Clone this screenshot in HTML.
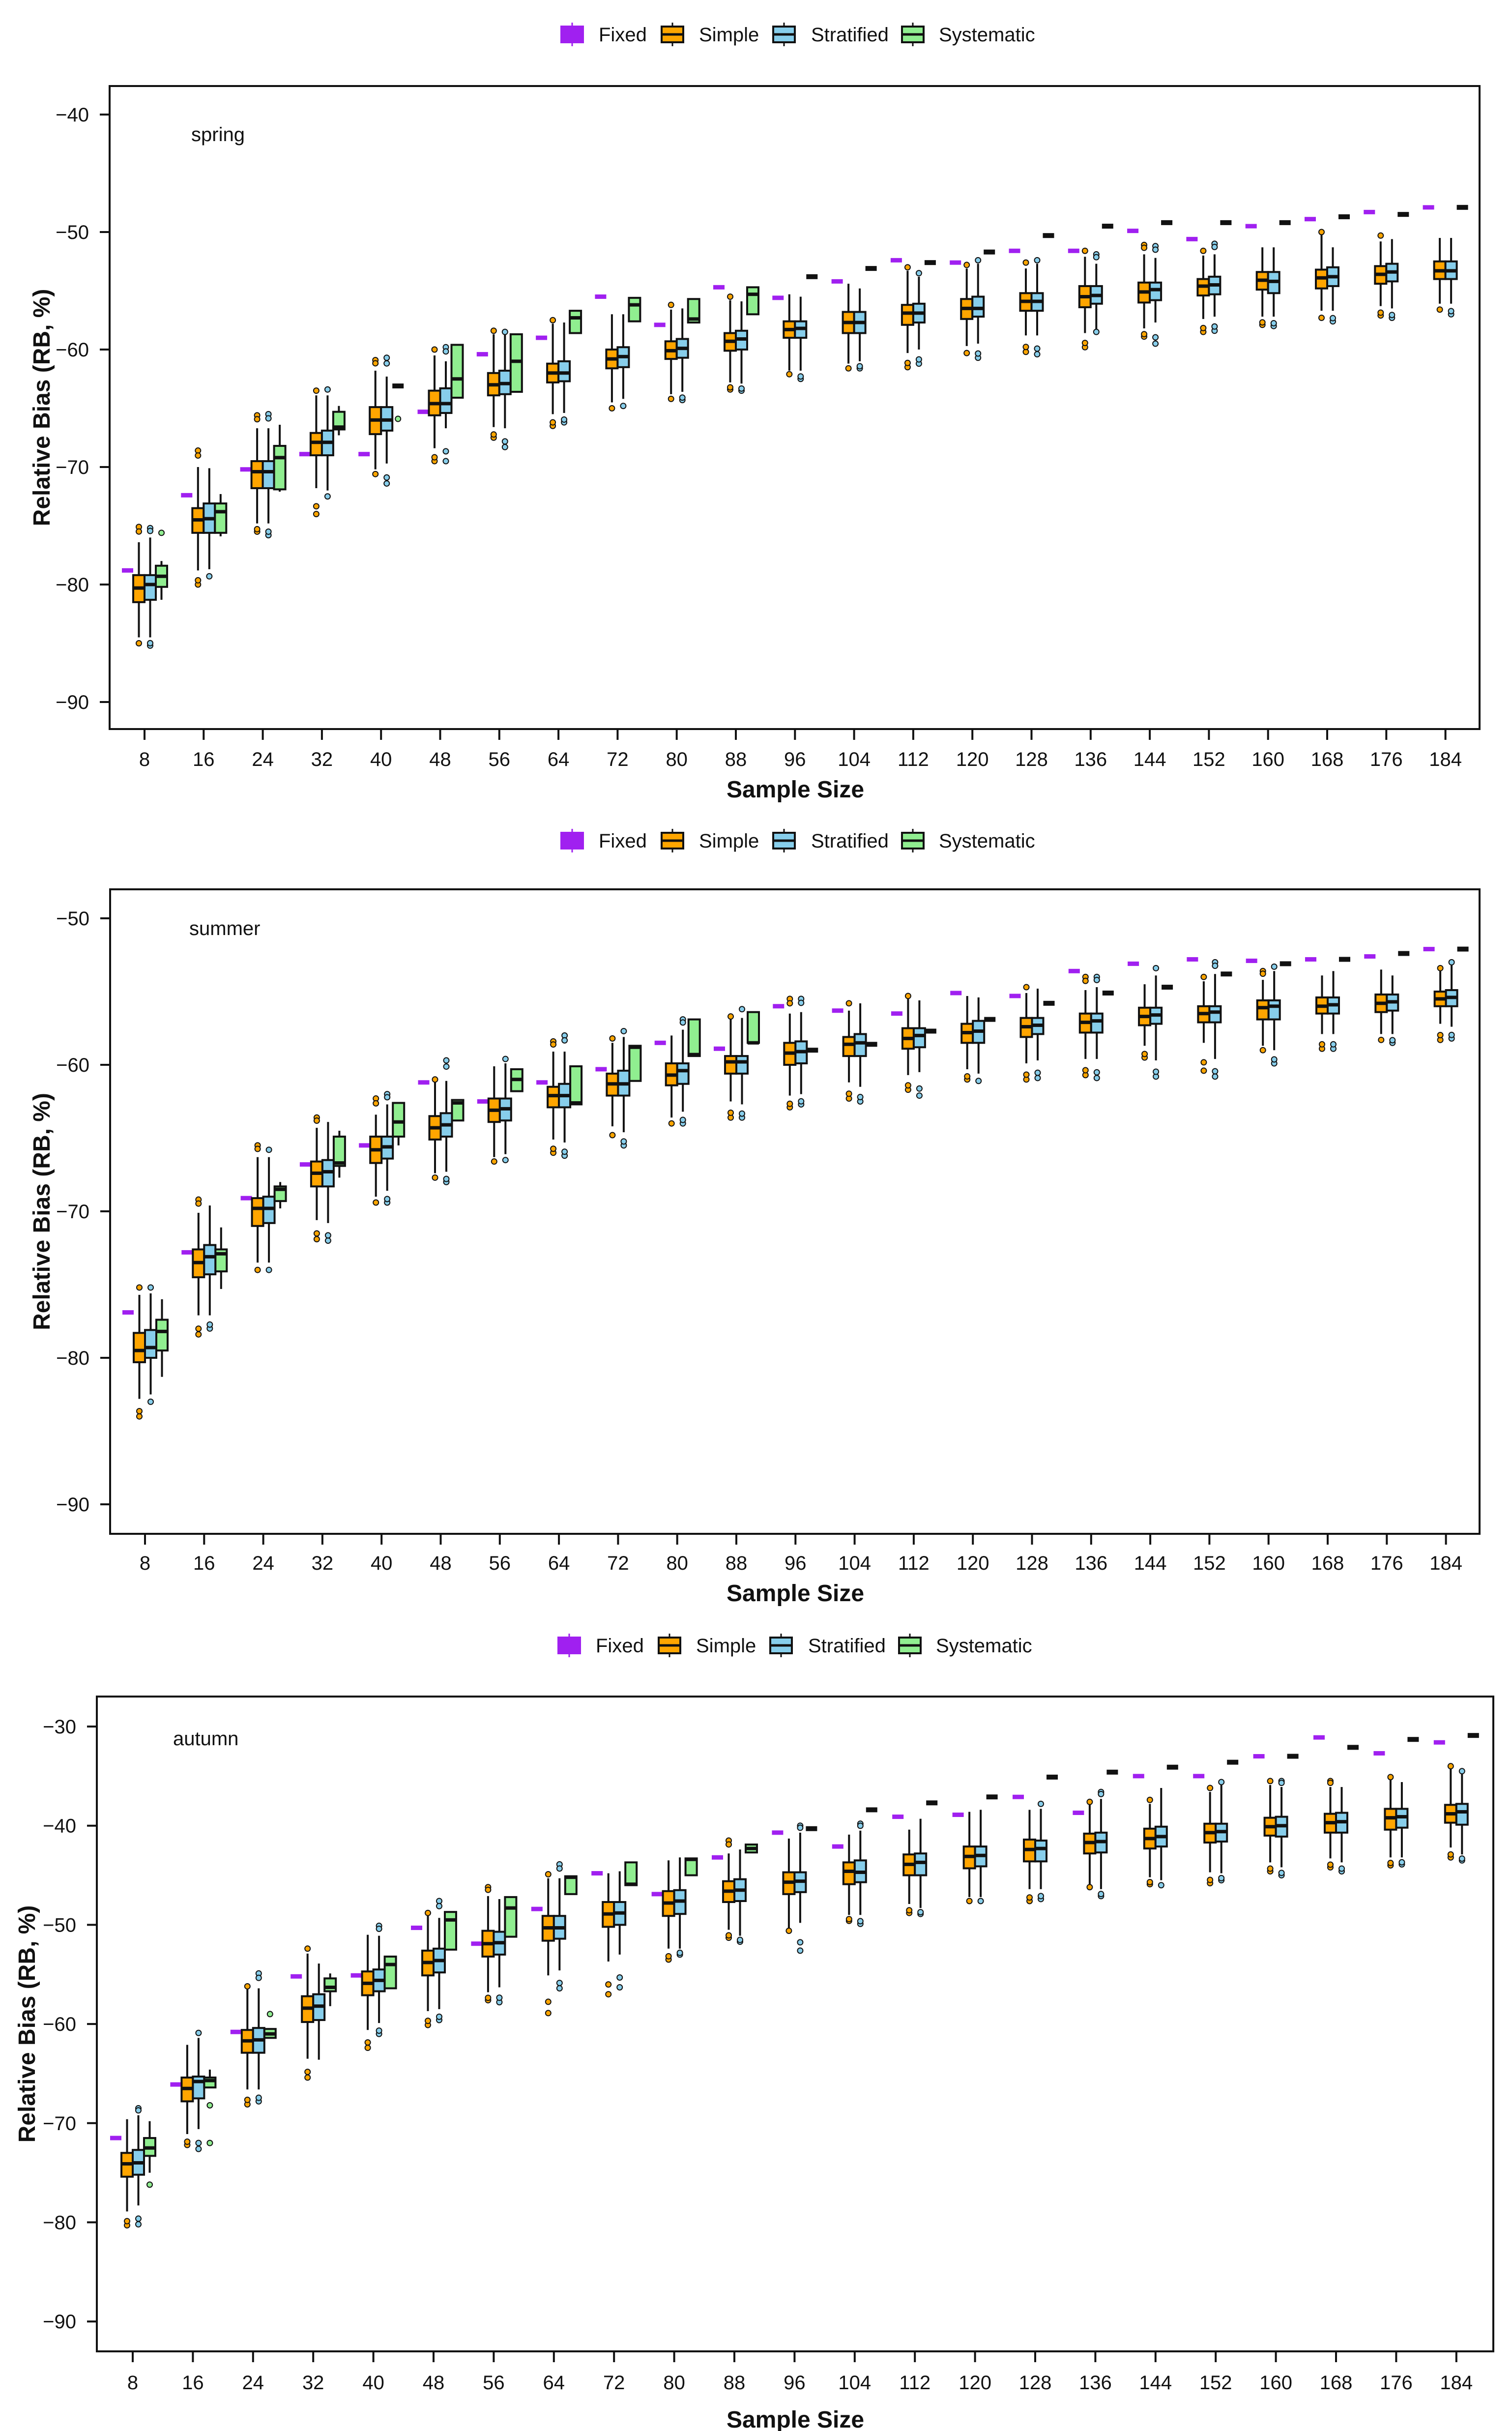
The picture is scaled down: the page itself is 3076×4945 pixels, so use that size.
<!DOCTYPE html>
<html><head><meta charset="utf-8"><title>Relative Bias by Sample Size</title>
<style>
html,body{margin:0;padding:0;background:#fff;}
svg{display:block;}
text{font-family:"Liberation Sans Narrow","Liberation Sans",Arial,sans-serif;fill:#111;}
.bold{font-family:"Liberation Sans",Arial,sans-serif;font-weight:bold;}
</style></head>
<body>
<svg id="chart" xmlns="http://www.w3.org/2000/svg" width="3076" height="4945" viewBox="0 0 3076 4945">
<rect x="0" y="0" width="3076" height="4945" fill="#fff"/>
</svg>
<script>
const categories = [8,16,24,32,40,48,56,64,72,80,88,96,104,112,120,128,136,144,152,160,168,176,184];
const springTicks = [-40,-50,-60,-70,-80,-90];
const summerTicks = [-50,-60,-70,-80,-90];
const autumnTicks = [-30,-40,-50,-60,-70,-80,-90];

// ---------- spring ----------
const springFixed = [-78.8,-72.4,-70.2,-68.9,-68.9,-65.3,-60.4,-59.0,-55.5,-57.9,-54.7,-55.6,-54.2,-52.4,-52.6,-51.6,-51.6,-49.9,-50.6,-49.5,-48.9,-48.3,-47.9];
const springSimpleMed = [-80.3,-74.5,-70.4,-67.9,-66.0,-64.6,-63.0,-62.0,-60.8,-60.1,-59.3,-58.3,-57.7,-56.9,-56.5,-55.9,-55.5,-55.1,-54.6,-54.1,-53.9,-53.6,-53.3];
const springSimpleQ3 = [-79.2,-73.5,-69.5,-67.1,-64.9,-63.5,-62.0,-61.2,-60.0,-59.3,-58.6,-57.6,-56.8,-56.2,-55.7,-55.2,-54.6,-54.3,-54.0,-53.4,-53.2,-52.9,-52.5];
const springSimpleQ1 = [-81.5,-75.6,-71.8,-69.0,-67.2,-65.6,-63.9,-62.8,-61.6,-60.8,-60.1,-59.0,-58.6,-57.9,-57.4,-56.7,-56.4,-56.0,-55.4,-54.9,-54.8,-54.4,-54.0];
const springSimpleHi = [-76.4,-70.0,-66.7,-63.9,-61.8,-60.5,-58.7,-57.8,-57.0,-56.6,-55.8,-55.3,-54.4,-53.3,-53.1,-53.1,-52.1,-51.9,-52.0,-51.3,-50.2,-50.8,-50.5];
const springSimpleLo = [-84.5,-78.8,-74.8,-71.8,-70.2,-68.4,-66.6,-65.5,-64.5,-63.8,-62.8,-61.8,-61.2,-60.3,-59.7,-58.8,-58.6,-58.2,-57.4,-57.2,-56.7,-56.3,-56.1];
const springSimpleOutHi = [-75.1,-68.6,-65.6,-63.5,-60.9,-60.0,-58.4,-57.5,null,-56.2,-55.5,null,null,-53.0,-52.8,-52.6,-51.6,-51.1,-51.6,null,-50.0,-50.3,null];
const springSimpleOutLo = [-85.0,-80.0,-75.5,-74.0,-70.6,-69.5,-67.5,-66.5,-65.0,-64.2,-63.4,-62.1,-61.6,-61.5,-60.3,-60.2,-59.8,-58.9,-58.5,-57.9,-57.3,-57.1,-56.6];
const springStratMed = [-80.0,-74.4,-70.4,-67.9,-66.0,-64.6,-62.9,-62.0,-60.6,-59.9,-59.1,-58.2,-57.7,-56.9,-56.5,-55.9,-55.4,-54.9,-54.5,-54.2,-53.8,-53.4,-53.3];
const springStratQ3 = [-79.2,-73.1,-69.5,-66.9,-64.9,-63.3,-61.8,-61.0,-59.8,-59.1,-58.4,-57.6,-56.8,-56.1,-55.5,-55.2,-54.6,-54.3,-53.8,-53.4,-53.0,-52.7,-52.5];
const springStratQ1 = [-81.3,-75.6,-71.8,-69.0,-66.9,-65.4,-63.8,-62.7,-61.5,-60.7,-60.0,-59.0,-58.6,-57.7,-57.2,-56.7,-56.1,-55.8,-55.3,-55.2,-54.6,-54.2,-54.0];
const springStratHi = [-76.0,-70.1,-66.7,-63.9,-62.3,-61.0,-58.7,-57.7,-57.0,-56.5,-55.9,-55.5,-54.8,-53.8,-52.7,-52.7,-52.7,-52.2,-51.9,-51.3,-51.3,-50.6,-50.5];
const springStratLo = [-84.5,-78.7,-74.8,-72.0,-69.7,-66.7,-66.7,-65.4,-64.2,-63.6,-62.9,-61.8,-61.0,-60.0,-59.5,-58.8,-58.3,-57.7,-57.2,-57.2,-56.7,-56.5,-56.1];
const springStratOutHi = [-75.2,null,-65.5,-63.4,-60.7,-59.8,-58.5,null,null,null,null,null,null,-53.5,-52.4,-52.4,-51.9,-51.2,-51.0,null,null,null,null];
const springStratOutLo = [-85.2,-79.3,-75.8,-72.5,-71.4,-69.5,-68.3,-66.2,-64.8,-64.3,-63.5,-62.5,-61.6,-61.2,-60.7,-60.4,-58.5,-59.5,-58.4,-58.0,-57.6,-57.3,-57.0];
const springSysMed = [-79.3,-73.8,-69.2,-66.6,-63.1,-62.5,-61.0,-57.3,-56.2,-57.4,-55.3,-53.8,-53.1,-52.6,-51.7,-50.3,-49.5,-49.2,-49.2,-49.2,-48.7,-48.5,-47.9];
const springSysQ3 = [-78.4,-73.1,-68.2,-65.3,null,-59.6,-58.7,-56.7,-55.6,-55.7,-54.7,null,null,null,null,null,null,null,null,null,null,null,null];
const springSysQ1 = [-80.2,-75.6,-71.9,-66.8,null,-64.1,-63.6,-58.6,-57.6,-57.7,-57.0,null,null,null,null,null,null,null,null,null,null,null,null];
const springSysHi = [-78.0,-72.3,-66.4,-64.8,null,-59.6,-58.7,-56.7,-55.6,-55.7,-54.7,null,null,null,null,null,null,null,null,null,null,null,null];
const springSysLo = [-81.3,-75.9,-72.1,-67.3,null,-64.1,-63.6,-58.6,-57.6,-57.7,-57.0,null,null,null,null,null,null,null,null,null,null,null,null];
const springSysOutIdx = [0,4];
const springSysOutVal = [-75.6,-65.9];

// ---------- summer ----------
const summerFixed = [-76.9,-72.8,-69.1,-66.8,-65.5,-61.2,-62.5,-61.2,-60.3,-58.5,-58.9,-56.0,-56.3,-56.5,-55.1,-55.3,-53.6,-53.1,-52.8,-52.9,-52.8,-52.6,-52.1];
const summerSimpleMed = [-79.5,-73.5,-69.8,-67.4,-65.8,-64.3,-63.1,-62.1,-61.3,-60.7,-59.8,-59.2,-58.6,-58.2,-57.8,-57.4,-57.1,-56.7,-56.5,-56.1,-56.0,-55.8,-55.5];
const summerSimpleQ3 = [-78.3,-72.6,-69.1,-66.6,-64.9,-63.5,-62.3,-61.5,-60.6,-59.9,-59.4,-58.5,-58.1,-57.5,-57.2,-56.8,-56.5,-56.1,-56.0,-55.6,-55.4,-55.2,-55.0];
const summerSimpleQ1 = [-80.3,-74.5,-71.0,-68.3,-66.7,-65.1,-63.9,-62.9,-62.1,-61.4,-60.6,-60.0,-59.4,-58.9,-58.5,-58.1,-57.8,-57.3,-57.1,-56.9,-56.5,-56.4,-56.0];
const summerSimpleHi = [-75.7,-70.1,-66.3,-64.3,-63.4,-61.2,-60.1,-59.1,-58.5,-58.0,-56.9,-56.5,-56.3,-55.4,-55.3,-55.1,-54.9,-54.5,-54.3,-54.2,-53.9,-53.5,-53.6];
const summerSimpleLo = [-82.8,-77.1,-73.5,-70.6,-69.0,-67.4,-66.3,-65.1,-64.2,-63.6,-62.5,-62.1,-61.2,-60.7,-60.3,-59.9,-59.6,-58.7,-58.5,-58.7,-57.9,-57.9,-57.2];
const summerSimpleOutHi = [-75.2,-69.2,-65.5,-63.6,-62.3,-61.0,null,-58.4,-58.2,null,-56.7,-55.5,-55.8,-55.3,null,-54.7,-54.0,null,-54.0,-53.6,null,null,-53.4];
const summerSimpleOutLo = [-84.0,-78.4,-74.0,-71.9,-69.4,-67.7,-66.6,-66.0,-64.8,-64.0,-63.6,-62.9,-62.3,-61.7,-61.0,-61.0,-60.7,-59.5,-60.4,-59.0,-58.9,-58.3,-58.3];
const summerStratMed = [-79.3,-73.1,-69.8,-67.3,-65.6,-64.1,-63.0,-62.1,-61.3,-60.4,-59.8,-59.1,-58.5,-58.0,-57.7,-57.3,-57.0,-56.6,-56.4,-56.0,-55.9,-55.7,-55.4];
const summerStratQ3 = [-78.1,-72.3,-69.0,-66.5,-64.9,-63.3,-62.3,-61.3,-60.4,-59.9,-59.4,-58.4,-57.9,-57.5,-57.0,-56.8,-56.5,-56.1,-56.0,-55.6,-55.4,-55.2,-54.9];
const summerStratQ1 = [-80.0,-74.3,-70.8,-68.3,-66.4,-64.9,-63.8,-62.9,-62.1,-61.3,-60.6,-59.9,-59.4,-58.8,-58.5,-57.9,-57.8,-57.2,-57.1,-56.9,-56.5,-56.3,-56.0];
const summerStratHi = [-75.6,-69.6,-66.3,-63.9,-62.7,-61.1,-59.9,-59.1,-58.1,-57.6,-56.8,-56.4,-55.8,-55.6,-55.4,-54.8,-54.7,-53.9,-53.8,-53.6,-53.6,-53.9,-53.1];
const summerStratLo = [-82.5,-77.1,-73.5,-70.8,-68.6,-67.3,-66.1,-65.3,-64.6,-63.2,-62.7,-62.0,-61.5,-60.5,-60.6,-59.7,-59.6,-59.7,-59.6,-59.0,-57.9,-57.9,-57.4];
const summerStratOutHi = [-75.2,null,-65.8,null,-62.0,-59.7,-59.6,-58.0,-57.7,-56.9,-56.2,-55.5,null,null,null,null,-54.0,-53.4,-53.0,-53.3,null,null,-53.0];
const summerStratOutLo = [-83.0,-78.0,-74.0,-72.0,-69.4,-68.0,-66.5,-66.2,-65.5,-64.0,-63.6,-62.7,-62.5,-62.1,-61.1,-60.9,-60.9,-60.8,-60.8,-59.9,-58.9,-58.5,-58.2];
const summerSysMed = [-78.2,-72.9,-68.5,-66.7,-63.9,-62.6,-61.0,-62.6,-58.8,-59.3,-58.5,-59.0,-58.6,-57.7,-56.9,-55.8,-55.1,-54.7,-53.8,-53.1,-52.8,-52.4,-52.1];
const summerSysQ3 = [-77.4,-72.6,-68.3,-64.9,-62.6,-62.4,-60.3,-60.1,-58.7,-56.9,-56.4,null,null,null,null,null,null,null,null,null,null,null,null];
const summerSysQ1 = [-79.5,-74.1,-69.3,-66.9,-64.9,-63.8,-61.8,-62.7,-61.1,-59.4,-58.5,null,null,null,null,null,null,null,null,null,null,null,null];
const summerSysHi = [-76.0,-71.1,-68.0,-64.5,-62.6,-62.4,-60.3,-60.1,-58.7,-56.9,-56.4,null,null,null,null,null,null,null,null,null,null,null,null];
const summerSysLo = [-81.3,-75.3,-69.8,-67.7,-65.5,-63.8,-61.8,-62.7,-61.1,-59.4,-58.5,null,null,null,null,null,null,null,null,null,null,null,null];
const summerSysOutIdx = [];
const summerSysOutVal = [];

// ---------- autumn ----------
const autumnFixed = [-71.5,-66.1,-60.8,-55.2,-55.1,-50.3,-51.9,-48.4,-44.8,-46.9,-43.2,-40.7,-42.1,-39.1,-38.9,-37.1,-38.7,-35.0,-35.0,-33.0,-31.1,-32.7,-31.6];
const autumnSimpleMed = [-74.1,-66.5,-61.7,-58.4,-55.9,-53.8,-51.9,-50.3,-48.9,-47.8,-46.6,-45.7,-44.6,-43.9,-43.1,-42.4,-41.7,-41.3,-40.7,-40.1,-39.7,-39.2,-38.8];
const autumnSimpleQ3 = [-73.0,-65.4,-60.6,-57.2,-54.7,-52.6,-50.6,-49.1,-47.7,-46.6,-45.6,-44.7,-43.7,-42.9,-42.1,-41.4,-40.8,-40.3,-39.8,-39.2,-38.8,-38.3,-37.9];
const autumnSimpleQ1 = [-75.4,-67.8,-62.9,-59.8,-57.1,-55.1,-53.2,-51.6,-50.2,-49.1,-47.7,-46.9,-45.9,-45.0,-44.3,-43.6,-42.8,-42.3,-41.7,-41.0,-40.7,-40.4,-39.7];
const autumnSimpleHi = [-69.6,-62.1,-56.4,-52.9,-51.0,-48.8,-47.1,-45.3,-44.8,-43.5,-42.8,-41.3,-40.9,-40.4,-38.6,-38.4,-37.6,-37.8,-36.6,-35.9,-36.1,-35.3,-34.3];
const autumnSimpleLo = [-78.9,-71.1,-66.6,-63.5,-60.6,-58.7,-56.8,-55.1,-53.7,-52.4,-50.5,-50.3,-49.0,-47.9,-47.2,-46.4,-45.9,-45.2,-44.7,-43.7,-43.3,-43.2,-42.2];
const autumnSimpleOutHi = [null,null,-56.2,-52.4,null,-48.8,-46.2,-44.9,null,null,-41.5,null,null,null,null,null,-37.6,-37.4,-36.2,-35.5,-35.5,-35.1,-34.0];
const autumnSimpleOutLo = [-80.3,-72.2,-68.1,-65.4,-62.4,-60.1,-57.6,-58.9,-57.0,-53.5,-51.3,-50.6,-49.6,-48.8,-47.6,-47.6,-46.2,-45.9,-45.8,-44.6,-44.2,-44.0,-43.2];
const autumnStratMed = [-74.0,-65.8,-61.6,-58.2,-55.6,-53.6,-51.8,-50.3,-48.8,-47.6,-46.5,-45.6,-44.7,-43.7,-43.0,-42.3,-41.6,-41.1,-40.6,-40.0,-39.6,-39.1,-38.6];
const autumnStratQ3 = [-72.7,-65.3,-60.4,-57.0,-54.5,-52.4,-50.7,-49.1,-47.7,-46.5,-45.4,-44.7,-43.5,-42.8,-42.1,-41.5,-40.7,-40.1,-39.8,-39.1,-38.7,-38.3,-37.8];
const autumnStratQ1 = [-75.2,-67.5,-62.9,-59.6,-56.7,-54.8,-53.0,-51.4,-50.0,-48.9,-47.6,-46.7,-45.7,-45.0,-44.1,-43.6,-42.7,-42.1,-41.6,-41.1,-40.7,-40.2,-39.9];
const autumnStratHi = [-69.2,-61.4,-56.4,-53.9,-51.1,-49.3,-47.4,-45.3,-44.6,-43.2,-42.4,-40.7,-40.5,-39.3,-38.4,-38.3,-37.3,-36.2,-35.9,-36.1,-36.1,-35.6,-34.6];
const autumnStratLo = [-78.3,-70.6,-66.6,-63.6,-59.9,-58.5,-56.3,-54.6,-53.0,-52.4,-51.1,-49.8,-49.0,-48.3,-47.2,-46.4,-46.4,-45.5,-44.8,-44.2,-43.7,-43.2,-42.9];
const autumnStratOutHi = [-68.5,-60.9,-54.9,null,-50.1,-47.6,null,-43.9,null,null,null,-40.0,-39.8,null,null,-37.8,-36.6,null,-35.6,-35.5,null,null,-34.5];
const autumnStratOutLo = [-80.2,-72.6,-67.8,null,-61.0,-59.6,-57.8,-56.4,-56.3,-53.0,-51.7,-52.6,-49.9,-48.9,-47.6,-47.4,-47.1,-46.0,-45.5,-45.0,-44.6,-43.9,-43.5];
const autumnSysMed = [-72.5,-65.7,-61.0,-56.3,-54.0,-49.5,-48.3,-45.2,-45.9,-43.4,-42.3,-40.3,-38.4,-37.7,-37.1,-35.1,-34.6,-34.1,-33.6,-33.0,-32.1,-31.3,-30.9];
const autumnSysQ3 = [-71.5,-65.4,-60.5,-55.4,-53.2,-48.7,-47.2,-45.1,-43.7,-43.3,-41.9,null,null,null,null,null,null,null,null,null,null,null,null];
const autumnSysQ1 = [-73.3,-66.4,-61.4,-56.7,-56.4,-52.5,-51.2,-46.9,-46.0,-45.0,-42.7,null,null,null,null,null,null,null,null,null,null,null,null];
const autumnSysHi = [-69.8,-64.6,-60.5,-54.9,-53.2,-48.7,-47.2,-45.1,-43.7,-43.3,-41.9,null,null,null,null,null,null,null,null,null,null,null,null];
const autumnSysLo = [-75.0,-66.4,-61.4,-58.2,-56.4,-52.5,-51.2,-46.9,-46.0,-45.0,-42.7,null,null,null,null,null,null,null,null,null,null,null,null];
const autumnSysOutIdx = [0,1,1,2];
const autumnSysOutVal = [-76.2,-68.2,-72.0,-59.0];

const NS = 'http://www.w3.org/2000/svg';
const svg = document.getElementById('chart');
function mk(tag, attrs, parent){
  const e = document.createElementNS(NS, tag);
  for (const k in attrs) e.setAttribute(k, attrs[k]);
  (parent || svg).appendChild(e);
  return e;
}
const COL = {fixed:'#A020F0', simple:'#FFA500', strat:'#87CEEB', sys:'#90EE90'};

const panelDefs = [
  {name:'spring', left:223, right:3010, top:175, bottom:1483, x0:294, dx:120.3, refV:-40, refY:233, ppu:23.9,
   ticks:springTicks, legendY:70, legendDx:0, labelX:389, labelY:287, yTitleX:85, tickLabY:1558, xTitleY:1622,
   fixed:springFixed,
   simple:[springSimpleLo,springSimpleQ1,springSimpleMed,springSimpleQ3,springSimpleHi,springSimpleOutLo,springSimpleOutHi],
   strat:[springStratLo,springStratQ1,springStratMed,springStratQ3,springStratHi,springStratOutLo,springStratOutHi],
   sys:[springSysLo,springSysQ1,springSysMed,springSysQ3,springSysHi], sysOutIdx:springSysOutIdx, sysOutVal:springSysOutVal},
  {name:'summer', left:224, right:3010, top:1809, bottom:3120, x0:295, dx:120.3, refV:-50, refY:1868, ppu:29.8,
   ticks:summerTicks, legendY:1710, legendDx:0, labelX:385, labelY:1902, yTitleX:85, tickLabY:3193, xTitleY:3257,
   fixed:summerFixed,
   simple:[summerSimpleLo,summerSimpleQ1,summerSimpleMed,summerSimpleQ3,summerSimpleHi,summerSimpleOutLo,summerSimpleOutHi],
   strat:[summerStratLo,summerStratQ1,summerStratMed,summerStratQ3,summerStratHi,summerStratOutLo,summerStratOutHi],
   sys:[summerSysLo,summerSysQ1,summerSysMed,summerSysQ3,summerSysHi], sysOutIdx:summerSysOutIdx, sysOutVal:summerSysOutVal},
  {name:'autumn', left:197, right:3038, top:3451, bottom:4783, x0:270, dx:122.4, refV:-30, refY:3512, ppu:20.17,
   ticks:autumnTicks, legendY:3347, legendDx:-6, labelX:352, labelY:3550, yTitleX:55, tickLabY:4860, xTitleY:4938,
   fixed:autumnFixed,
   simple:[autumnSimpleLo,autumnSimpleQ1,autumnSimpleMed,autumnSimpleQ3,autumnSimpleHi,autumnSimpleOutLo,autumnSimpleOutHi],
   strat:[autumnStratLo,autumnStratQ1,autumnStratMed,autumnStratQ3,autumnStratHi,autumnStratOutLo,autumnStratOutHi],
   sys:[autumnSysLo,autumnSysQ1,autumnSysMed,autumnSysQ3,autumnSysHi], sysOutIdx:autumnSysOutIdx, sysOutVal:autumnSysOutVal}
];

const BW = 23;
function outlierCircle(g, cx, cy, fill){
  const c = mk('circle', {cx:cx, cy:cy, r:5.5, fill:fill, stroke:'#111', 'stroke-width':2}, g);
  
  
}
function drawBox(g, cx, st, i, fill, Y){
  const lo = st[0][i], q1 = st[1][i], med = st[2][i], q3 = st[3][i], hi = st[4][i];
  const olo = st[5] ? st[5][i] : null, ohi = st[6] ? st[6][i] : null;
  mk('line', {x1:cx, x2:cx, y1:Y(hi), y2:Y(q3), stroke:'#111', 'stroke-width':4}, g);
  mk('line', {x1:cx, x2:cx, y1:Y(q1), y2:Y(lo), stroke:'#111', 'stroke-width':4}, g);
  const r = mk('rect', {x:cx-BW/2, y:Y(q3), width:BW, height:Math.max(1, Y(q1)-Y(q3)), fill:fill, stroke:'#111', 'stroke-width':4}, g);
  
  
  mk('line', {x1:cx-BW/2, x2:cx+BW/2, y1:Y(med), y2:Y(med), stroke:'#111', 'stroke-width':7}, g);
  if (ohi !== null && ohi !== undefined){
    outlierCircle(g, cx, Y(ohi), fill);
    if (Math.abs(ohi-hi) > 0.6) outlierCircle(g, cx, Y((ohi+hi)/2 + (ohi-hi)*0.2), fill);
  }
  if (olo !== null && olo !== undefined){
    outlierCircle(g, cx, Y(olo), fill);
    if (Math.abs(olo-lo) > 0.6) outlierCircle(g, cx, Y((olo+lo)/2 + (olo-lo)*0.2), fill);
  }
}

function legendKey(g, x, cy, fill, isFixed){
  if (isFixed){
    mk('line', {x1:x+24, x2:x+24, y1:cy-24, y2:cy+24, stroke:fill, 'stroke-width':3}, g);
    mk('rect', {x:x, y:cy-18, width:48, height:36, fill:fill}, g);
  } else {
    mk('line', {x1:x+24, x2:x+24, y1:cy-24, y2:cy+24, stroke:'#111', 'stroke-width':3}, g);
    mk('rect', {x:x+2, y:cy-16, width:44, height:32, fill:fill, stroke:'#111', 'stroke-width':4}, g);
    mk('line', {x1:x+2, x2:x+46, y1:cy, y2:cy, stroke:'#111', 'stroke-width':5}, g);
  }
}

panelDefs.forEach(function(p){
  const Y = function(v){ return p.refY + (p.refV - v) * p.ppu; };
  const X = function(i){ return p.x0 + i * p.dx; };
  const g = mk('g', {});
  
  

  // legend
  const lg = mk('g', {}, g);
  
  
  const items = [['Fixed',COL.fixed,1140,1218,true],['Simple',COL.simple,1344,1422,false],['Stratified',COL.strat,1571,1650,false],['Systematic',COL.sys,1833,1910,false]];
  items.forEach(function(it){
    const eg = mk('g', {}, lg);
    
    
    legendKey(eg, it[2] + p.legendDx, p.legendY, it[1], it[4]);
    const t = mk('text', {x:it[3] + p.legendDx, y:p.legendY + 14, 'font-size':40}, eg);
    t.textContent = it[0];
  });

  // frame
  const fr = mk('rect', {x:p.left, y:p.top, width:p.right-p.left, height:p.bottom-p.top, fill:'none', stroke:'#111', 'stroke-width':4}, g);
  
  

  // season label
  const sl = mk('text', {x:p.labelX, y:p.labelY, 'font-size':40}, g);
  
  
  sl.textContent = p.name;

  // y axis
  const ya = mk('g', {}, g);
  
  
  p.ticks.forEach(function(v){
    mk('line', {x1:p.left-20, x2:p.left, y1:Y(v), y2:Y(v), stroke:'#111', 'stroke-width':4}, ya);
    const t = mk('text', {x:p.left-42, y:Y(v)+14, 'font-size':40, 'text-anchor':'end'}, ya);
    
    
    t.textContent = '\u2212' + Math.abs(v);
  });
  const yt = mk('text', {x:p.yTitleX, y:(p.top+p.bottom)/2, 'font-size':48, 'text-anchor':'middle', 'class':'bold', transform:'rotate(-90 ' + p.yTitleX + ' ' + ((p.top+p.bottom)/2) + ')', dy:16}, g);
  
  
  yt.textContent = 'Relative Bias (RB, %)';

  // x axis
  const xa = mk('g', {}, g);
  
  
  categories.forEach(function(c, i){
    mk('line', {x1:X(i), x2:X(i), y1:p.bottom, y2:p.bottom+22, stroke:'#111', 'stroke-width':4}, xa);
    const t = mk('text', {x:X(i), y:p.tickLabY, 'font-size':40, 'text-anchor':'middle'}, xa);
    
    
    t.textContent = c;
  });
  const xt = mk('text', {x:1618, y:p.xTitleY, 'font-size':48, 'text-anchor':'middle', 'class':'bold'}, g);
  
  
  xt.textContent = 'Sample Size';

  // marks
  categories.forEach(function(c, i){
    const cg = mk('g', {}, g);
    
    
    const cx = X(i);
    // fixed
    const f = mk('rect', {x:cx-34.5-BW/2, y:Y(p.fixed[i])-4.5, width:BW, height:9, fill:COL.fixed}, cg);
    
    
    drawBox(cg, cx-11.5, p.simple, i, COL.simple, Y);
    drawBox(cg, cx+11.5, p.strat, i, COL.strat, Y);
    const s = p.sys;
    if (s[1][i] === null){
      const d = mk('rect', {x:cx+34.5-BW/2, y:Y(s[2][i])-5, width:BW, height:10, fill:'#111'}, cg);
      
      
    } else {
      drawBox(cg, cx+34.5, [s[0],s[1],s[2],s[3],s[4],null,null], i, COL.sys, Y);
    }
  });
  p.sysOutIdx.forEach(function(idx, k){
    const c = mk('circle', {cx:X(idx)+34.5, cy:Y(p.sysOutVal[k]), r:5.5, fill:COL.sys, stroke:'#111', 'stroke-width':2}, g);
    
    
  });
});
</script>
</body></html>
